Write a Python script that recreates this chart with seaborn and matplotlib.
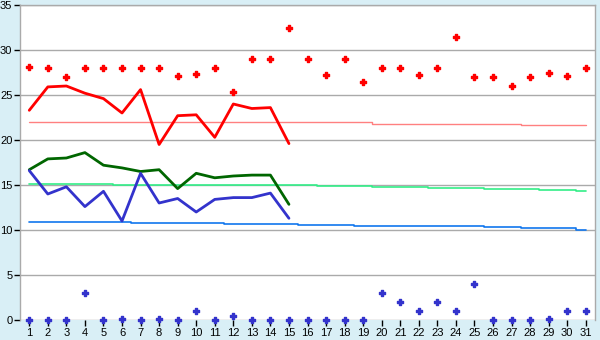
import numpy as np
import pandas as pd
import matplotlib
matplotlib.use("Agg")
import matplotlib.pyplot as plt
import seaborn as sns

days = list(range(1, 32))
obs_days = list(range(1, 16))

max_temp = [23.3, 25.9, 26.0, 25.2, 24.6, 23.0, 25.6, 19.5, 22.7, 22.8,
            20.3, 24.0, 23.5, 23.6, 19.6]
mean_temp = [16.7, 17.9, 18.0, 18.6, 17.2, 16.9, 16.5, 16.7, 14.6, 16.3,
             15.8, 16.0, 16.1, 16.1, 12.85]
min_temp = [16.6, 14.0, 14.8, 12.6, 14.3, 11.0, 16.3, 13.0, 13.5, 12.0,
            13.4, 13.6, 13.6, 14.1, 11.3]

record_max = [28.1, 28.0, 27.0, 28.0, 28.0, 28.0, 28.0, 28.0, 27.1, 27.3,
              28.0, 25.3, 29.0, 29.0, 32.4, 29.0, 27.2, 29.0, 26.5, 28.0,
              28.0, 27.2, 28.0, 31.4, 27.0, 27.0, 26.0, 27.0, 27.5, 27.1, 28.0]
record_min = [0.0, 0.0, 0.0, 3.0, 0.0, 0.1, 0.0, 0.1, 0.0, 1.0,
              0.0, 0.5, 0.0, 0.0, 0.0, 0.0, 0.0, 0.0, 0.0, 3.0,
              2.0, 1.0, 2.0, 1.0, 4.0, 0.0, 0.0, 0.0, 0.1, 1.0, 1.0]

normal_max = [22.0] * 19 + [21.8] * 8 + [21.7] * 4
normal_mean = [15.1] * 5 + [15.0] * 11 + [14.9] * 3 + [14.8] * 3 + [14.7] * 3 + [14.6] * 3 + [14.5] * 2 + [14.35]
normal_min = [10.9] * 6 + [10.8] * 5 + [10.7] * 4 + [10.6] * 3 + [10.5] * 4 + [10.4] * 3 + [10.3] * 2 + [10.2] * 3 + [10.0]

y_ticks = [0, 5, 10, 15, 20, 25, 30, 35]

sns.set_style("white")
plt.rcParams['font.family'] = ['Liberation Sans', 'DejaVu Sans']

bg = '#D9EFF6'
fig = plt.figure(figsize=(6, 3.4), dpi=100, facecolor=bg)
ax = fig.add_axes([20 / 600, 20 / 340, 575 / 600, 315 / 340])
ax.set_facecolor('white')

for y in y_ticks:
    ax.axhline(y, color='#AAAAAA', lw=1.0, zorder=0)

df_all = pd.DataFrame({'day': days, 'nmax': normal_max, 'nmean': normal_mean,
                       'nmin': normal_min, 'rmax': record_max, 'rmin': record_min})
df_obs = pd.DataFrame({'day': obs_days, 'max': max_temp, 'mean': mean_temp, 'min': min_temp})

sns.lineplot(data=df_all, x='day', y='nmax', ax=ax, color='#FF8080', lw=1.0,
             drawstyle='steps-mid', zorder=2)
sns.lineplot(data=df_all, x='day', y='nmean', ax=ax, color='#33EE88', lw=1.2,
             drawstyle='steps-mid', zorder=2)
sns.lineplot(data=df_all, x='day', y='nmin', ax=ax, color='#1177EE', lw=1.2,
             drawstyle='steps-mid', zorder=2)

sns.lineplot(data=df_obs, x='day', y='max', ax=ax, color='#FF0000', lw=2.0, zorder=3)
sns.lineplot(data=df_obs, x='day', y='mean', ax=ax, color='#006600', lw=2.0, zorder=3)
sns.lineplot(data=df_obs, x='day', y='min', ax=ax, color='#3333CC', lw=2.0, zorder=3)

sns.scatterplot(data=df_all, x='day', y='rmax', ax=ax, color='#FF0000', marker='P',
                s=18, edgecolor='#FF0000', linewidth=1.0, zorder=4)
sns.scatterplot(data=df_all, x='day', y='rmin', ax=ax, color='#3333CC', marker='P',
                s=18, edgecolor='#3333CC', linewidth=1.0, zorder=4, clip_on=False)

ax.set_xlim(0.5, 31.5)
ax.set_ylim(0, 35)
ax.set_xticks(days)
ax.set_xticklabels([str(d) for d in days])
ax.set_yticks(y_ticks)
ax.set_xlabel('')
ax.set_ylabel('')
ax.tick_params(axis='both', labelsize=8, colors='black', length=4, width=1,
               direction='out', pad=1.5)
ax.tick_params(axis='x', bottom=True)
ax.tick_params(axis='y', left=True)

for side in ['left', 'right', 'top']:
    ax.spines[side].set_visible(True)
    ax.spines[side].set_color('#AAAAAA')
    ax.spines[side].set_linewidth(1.0)
ax.spines['bottom'].set_visible(False)

fig.savefig('out.png', dpi=100, facecolor=bg)
